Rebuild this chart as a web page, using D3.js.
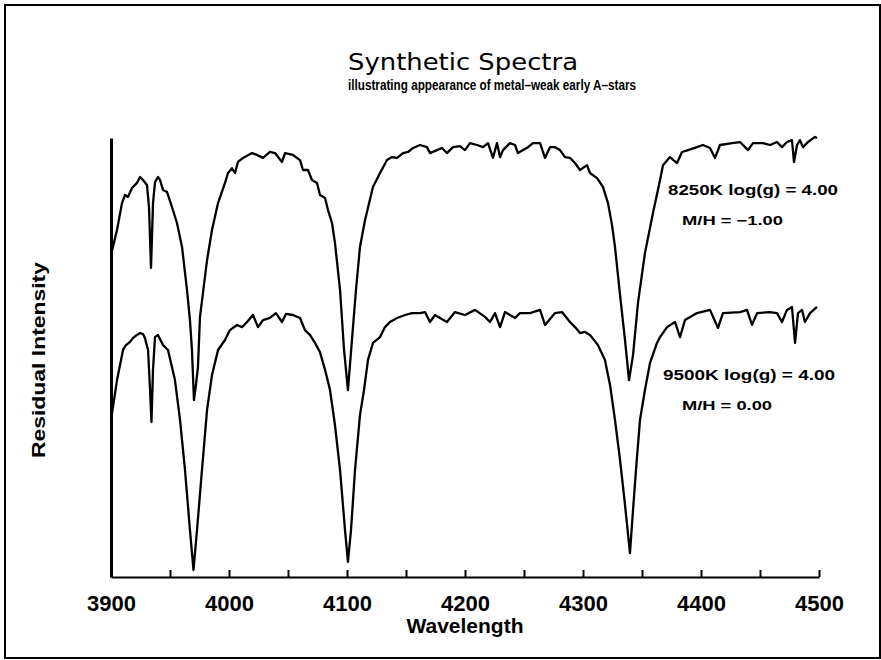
<!DOCTYPE html>
<html>
<head>
<meta charset="utf-8">
<script src="https://cdn.jsdelivr.net/npm/d3@7"></script>
<style>
body { margin: 0; background: #fff; }
svg { display: block; }
.axis path, .axis line { stroke: #000; stroke-width: 2; }
.axis text { font-family: "Liberation Sans", Arial, sans-serif; font-size: 22px; font-weight: bold; fill: #000; }
.spectrum { fill: none; stroke: #000; stroke-width: 2.3; stroke-linejoin: round; }
</style>
</head>
<body>
<svg id="chart" width="881" height="660"></svg>
<script>
// 9500K, log(g) = 4.00, M/H = 0.00 (lower spectrum)
var wave9500 = [3900, 3905.1, 3910.2, 3912.7, 3916.1, 3918.6, 3922.0, 3924.6, 3927.1, 3928.8,
    3931.4, 3933.1, 3934.3, 3935.6, 3937.3, 3939.8, 3944.1, 3948.3, 3954.2, 3958.5,
    3962.7, 3966.9, 3969.9, 3972.9, 3977.1, 3981.4, 3985.6, 3990.7, 3996.6, 4000.8,
    4006.8, 4011.0, 4015.3, 4020.3, 4024.6, 4028.8, 4034.7, 4039.8, 4044.9, 4048.3,
    4054.2, 4060.2, 4064.4, 4068.6, 4072.9, 4077.1, 4081.4, 4085.6, 4089.8, 4094.1,
    4098.3, 4100.8, 4103.4, 4106.8, 4111.0, 4114.4, 4117.8, 4122.0, 4128.0, 4132.2,
    4136.4, 4142.4, 4149.2, 4155.1, 4161.9, 4166.1, 4170.3, 4174.6, 4178.8, 4184.7,
    4191.5, 4200.0, 4208.5, 4216.9, 4221.2, 4225.4, 4229.7, 4233.9, 4242.4, 4246.6,
    4255.1, 4263.6, 4267.8, 4276.3, 4282.2, 4289.0, 4293.2, 4297.5, 4301.7, 4305.9,
    4312.7, 4318.6, 4322.9, 4327.1, 4331.4, 4335.6, 4339.8, 4342.4, 4344.9, 4348.3,
    4352.5, 4356.8, 4362.7, 4365.3, 4371.2, 4378.0, 4382.2, 4386.4, 4396.6, 4407.6,
    4414.4, 4418.6, 4433.1, 4439.0, 4443.2, 4447.5, 4458.5, 4464.4, 4468.6, 4472.9,
    4477.1, 4479.7, 4482.2, 4485.6, 4488.1, 4492.4, 4498.3];
var flux9500 = [0.584, 0.732, 0.844, 0.862, 0.874, 0.888, 0.900, 0.907, 0.903, 0.888,
    0.844, 0.695, 0.576, 0.770, 0.892, 0.900, 0.862, 0.844, 0.732, 0.584,
    0.398, 0.175, 0.026, 0.175, 0.398, 0.621, 0.751, 0.844, 0.881, 0.918,
    0.937, 0.929, 0.948, 0.974, 0.929, 0.955, 0.963, 0.981, 0.948, 0.978,
    0.974, 0.963, 0.918, 0.900, 0.870, 0.836, 0.770, 0.695, 0.565, 0.398,
    0.175, 0.056, 0.175, 0.398, 0.602, 0.695, 0.807, 0.870, 0.892, 0.929,
    0.948, 0.963, 0.974, 0.981, 0.981, 0.985, 0.948, 0.974, 0.963, 0.948,
    0.985, 0.974, 0.993, 0.967, 0.948, 0.981, 0.929, 0.985, 0.963, 0.981,
    0.981, 0.993, 0.937, 0.981, 0.985, 0.948, 0.929, 0.907, 0.911, 0.900,
    0.862, 0.807, 0.714, 0.584, 0.435, 0.268, 0.089, 0.249, 0.398, 0.584,
    0.695, 0.796, 0.870, 0.892, 0.929, 0.948, 0.892, 0.955, 0.981, 0.993,
    0.926, 0.981, 0.985, 0.993, 0.937, 0.981, 0.985, 0.981, 0.948, 0.993,
    1.004, 0.870, 0.981, 0.993, 0.948, 0.981, 1.004];

// 8250K, log(g) = 4.00, M/H = -1.00 (upper spectrum)
var wave8250 = [3900, 3905.1, 3909.3, 3911.9, 3914.4, 3917.8, 3922.0, 3924.6, 3927.1, 3930.5,
    3932.2, 3933.9, 3935.6, 3937.3, 3939.8, 3941.5, 3944.1, 3947.5, 3951.7, 3955.9,
    3960.2, 3964.4, 3966.9, 3968.6, 3970.3, 3972.0, 3973.7, 3975.4, 3981.4, 3985.6,
    3990.7, 3996.6, 3999.2, 4002.5, 4005.1, 4007.6, 4011.9, 4019.5, 4023.7, 4028.8,
    4034.7, 4039.0, 4044.9, 4047.5, 4054.2, 4060.2, 4062.7, 4066.9, 4070.3, 4074.6,
    4077.1, 4081.4, 4083.9, 4087.3, 4089.8, 4094.1, 4097.5, 4100.8, 4104.2, 4107.6,
    4111.0, 4115.3, 4122.0, 4128.0, 4133.9, 4138.1, 4142.4, 4147.5, 4151.7, 4156.0,
    4161.9, 4167.8, 4170.3, 4176.3, 4180.5, 4184.7, 4189.8, 4195.8, 4200.0, 4204.2,
    4210.2, 4215.3, 4219.5, 4223.7, 4227.1, 4229.7, 4232.2, 4238.1, 4242.4, 4244.9,
    4249.2, 4253.4, 4257.6, 4263.6, 4267.8, 4272.0, 4276.3, 4280.5, 4284.7, 4289.0,
    4293.2, 4297.5, 4303.4, 4305.9, 4311.9, 4316.9, 4321.2, 4324.6, 4327.1, 4331.4,
    4335.6, 4339.0, 4342.4, 4346.6, 4352.5, 4359.3, 4365.3, 4367.8, 4373.7, 4379.7,
    4383.9, 4389.0, 4396.6, 4401.7, 4407.6, 4411.9, 4416.1, 4426.3, 4433.1, 4439.8,
    4444.1, 4452.5, 4458.5, 4464.4, 4468.6, 4472.9, 4477.1, 4478.8, 4481.4, 4483.9,
    4486.4, 4490.7, 4496.6, 4498.3];
var flux8250 = [0.577, 0.670, 0.770, 0.800, 0.793, 0.826, 0.845, 0.867, 0.856, 0.837,
    0.755, 0.529, 0.770, 0.848, 0.867, 0.856, 0.819, 0.811, 0.755, 0.696,
    0.607, 0.447, 0.335, 0.224, 0.038, 0.094, 0.161, 0.346, 0.558, 0.670,
    0.770, 0.845, 0.882, 0.900, 0.882, 0.923, 0.938, 0.956, 0.949, 0.938,
    0.960, 0.956, 0.923, 0.956, 0.949, 0.930, 0.893, 0.893, 0.856, 0.845,
    0.800, 0.789, 0.744, 0.696, 0.622, 0.447, 0.224, 0.075, 0.261, 0.447,
    0.607, 0.707, 0.830, 0.882, 0.930, 0.941, 0.938, 0.956, 0.960, 0.975,
    0.986, 0.978, 0.956, 0.967, 0.975, 0.956, 0.978, 0.982, 0.967, 0.993,
    0.986, 0.978, 0.993, 0.938, 0.993, 0.941, 0.967, 0.993, 0.986, 0.956,
    0.967, 0.978, 0.993, 0.993, 0.938, 0.978, 0.978, 0.967, 0.941, 0.938,
    0.919, 0.893, 0.911, 0.882, 0.863, 0.830, 0.770, 0.688, 0.607, 0.428,
    0.261, 0.112, 0.205, 0.399, 0.584, 0.733, 0.856, 0.911, 0.941, 0.919,
    0.960, 0.967, 0.978, 0.986, 0.975, 0.938, 0.986, 0.993, 0.997, 0.967,
    0.993, 0.993, 0.986, 0.997, 0.978, 0.997, 1.004, 0.923, 0.986, 1.004,
    0.978, 0.997, 1.016, 1.012];

var offset8250 = 0.62; // vertical shift of the upper spectrum

var xTicks = d3.range(3900, 4501, 50);
var labels8250 = ["8250K log(g) = 4.00", "M/H = \u22121.00"];
var labels9500 = ["9500K log(g) = 4.00", "M/H = 0.00"];

var svg = d3.select("#chart");

// outer frame
svg.append("rect")
    .attr("x", 5).attr("y", 5)
    .attr("width", 875).attr("height", 653)
    .attr("fill", "none").attr("stroke", "#000").attr("stroke-width", 2);

var xScale = d3.scaleLinear().domain([3900, 4500]).range([111, 819]);
var yScale = d3.scaleLinear().domain([0, 1.632]).range([577, 138]);

// X axis
svg.append("g")
    .attr("class", "axis")
    .attr("transform", "translate(0," + yScale(0) + ")")
    .call(d3.axisBottom(xScale)
        .tickValues(xTicks)
        .tickSizeInner(-7)
        .tickSizeOuter(0)
        .tickPadding(18)
        .tickFormat(function (d) { return d % 100 === 0 ? d : ""; }));

// Y axis (line only)
svg.append("g")
    .attr("class", "axis")
    .attr("transform", "translate(" + xScale(3900) + ",0)")
    .call(d3.axisLeft(yScale).tickValues([]).tickSizeOuter(0))
    .select(".domain").style("stroke-width", 3);

var line = d3.line()
    .x(function (d) { return xScale(d[0]); })
    .y(function (d) { return yScale(d[1]); });

var data9500 = wave9500.map(function (w, i) { return [w, flux9500[i]]; });
var data8250 = wave8250.map(function (w, i) { return [w, flux8250[i] + offset8250]; });

svg.append("path").attr("class", "spectrum").attr("d", line(data8250));
svg.append("path").attr("class", "spectrum").attr("d", line(data9500));

// titles
svg.append("text")
    .attr("x", 348).attr("y", 70)
    .attr("font-family", "DejaVu Sans, sans-serif")
    .attr("font-size", 23)
    .attr("textLength", 230).attr("lengthAdjust", "spacingAndGlyphs")
    .text("Synthetic Spectra");

svg.append("text")
    .attr("x", 348).attr("y", 90)
    .attr("font-family", "Liberation Sans, Arial, sans-serif")
    .attr("font-size", 14).attr("font-weight", "bold")
    .attr("textLength", 288).attr("lengthAdjust", "spacingAndGlyphs")
    .text("illustrating appearance of metal\u2013weak early A\u2013stars");

// axis titles
svg.append("text")
    .attr("x", 465).attr("y", 633)
    .attr("text-anchor", "middle")
    .attr("font-family", "Liberation Sans, Arial, sans-serif")
    .attr("font-size", 21).attr("font-weight", "bold")
    .text("Wavelength");

svg.append("text")
    .attr("transform", "translate(45,360) rotate(-90)")
    .attr("text-anchor", "middle")
    .attr("font-family", "Liberation Sans, Arial, sans-serif")
    .attr("font-size", 19).attr("font-weight", "bold")
    .attr("textLength", 196).attr("lengthAdjust", "spacingAndGlyphs")
    .text("Residual Intensity");

// annotations
function annotate(lines, x0, y0, x1, y1, w0, w1) {
    svg.append("text")
        .attr("x", x0).attr("y", y0)
        .attr("font-family", "Liberation Sans, Arial, sans-serif")
        .attr("font-size", 15).attr("font-weight", "bold")
        .attr("textLength", w0).attr("lengthAdjust", "spacingAndGlyphs")
        .text(lines[0]);
    svg.append("text")
        .attr("x", x1).attr("y", y1)
        .attr("font-family", "Liberation Sans, Arial, sans-serif")
        .attr("font-size", 13).attr("font-weight", "bold")
        .attr("textLength", w1).attr("lengthAdjust", "spacingAndGlyphs")
        .text(lines[1]);
}
annotate(labels8250, 668, 195, 682, 225, 170, 101);
annotate(labels9500, 663, 380, 682, 410, 172, 90);
</script>
</body>
</html>
